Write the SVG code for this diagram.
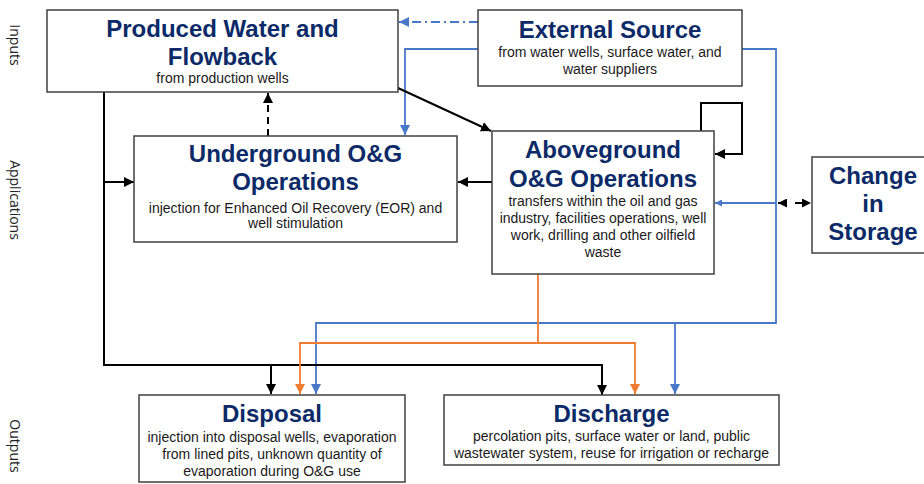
<svg xmlns="http://www.w3.org/2000/svg" width="924" height="484" viewBox="0 0 924 484">
<style>
.box{fill:#fff;stroke:#404040;stroke-width:1.5}
.t{font-family:"Liberation Sans",Arial,sans-serif;font-weight:bold;font-size:24px;fill:#0b2a67;text-anchor:middle}
.s{font-family:"Liberation Sans",Arial,sans-serif;font-size:14px;fill:#1a1a1a;text-anchor:middle}
.side{font-family:"Open Sans","DejaVu Sans",sans-serif;font-size:14px;fill:#222;text-anchor:middle}
.k{fill:none;stroke:#000;stroke-width:2}
.b{fill:none;stroke:#4a78c8;stroke-width:1.8}
.o{fill:none;stroke:#ee7d31;stroke-width:1.8}
</style>
<defs>
<marker id="ak" viewBox="0 0 10 10" refX="10" refY="5" markerWidth="10" markerHeight="10" markerUnits="userSpaceOnUse" orient="auto"><path d="M0,0 L10,5 L0,10 z" fill="#000"/></marker>
<marker id="ab" viewBox="0 0 10 10" refX="10" refY="5" markerWidth="10" markerHeight="10" markerUnits="userSpaceOnUse" orient="auto"><path d="M0,0 L10,5 L0,10 z" fill="#4a78c8"/></marker>
<marker id="abs" viewBox="0 0 10 10" refX="10" refY="5" markerWidth="7" markerHeight="7" markerUnits="userSpaceOnUse" orient="auto"><path d="M0,0 L10,5 L0,10 z" fill="#4a78c8"/></marker>
<marker id="ao" viewBox="0 0 10 10" refX="10" refY="5" markerWidth="10" markerHeight="10" markerUnits="userSpaceOnUse" orient="auto"><path d="M0,0 L10,5 L0,10 z" fill="#ee7d31"/></marker>
<marker id="aks" viewBox="0 0 10 10" refX="0" refY="5" markerWidth="9" markerHeight="9" markerUnits="userSpaceOnUse" orient="auto"><path d="M10,0 L0,5 L10,10 z" fill="#000"/></marker>
<marker id="akm" viewBox="0 0 10 10" refX="10" refY="5" markerWidth="9" markerHeight="9" markerUnits="userSpaceOnUse" orient="auto"><path d="M0,0 L10,5 L0,10 z" fill="#000"/></marker>
</defs>

<g id="side-labels">
<text class="side" transform="translate(15,45) rotate(90)" dominant-baseline="central">Inputs</text>
<text class="side" transform="translate(15,200) rotate(90)" dominant-baseline="central">Applications</text>
<text class="side" transform="translate(15,446) rotate(90)" dominant-baseline="central">Outputs</text>
</g>

<g id="connectors">
<line class="b" x1="478" y1="22" x2="399" y2="22" stroke-dasharray="9,4,2,4" marker-end="url(#ab)"/>
<path class="b" d="M478,49 H405 V135" marker-end="url(#ab)"/>
<path class="b" d="M742,49 H776 V323 H316 V394" marker-end="url(#ab)"/>
<path class="b" d="M675,323 V394" marker-end="url(#ab)"/>
<path class="b" d="M776,203 H715" marker-end="url(#abs)"/>
<path class="k" d="M398,88 L491,131" marker-end="url(#ak)"/>
<path class="k" d="M268,136 V93" stroke-dasharray="7,5" marker-end="url(#ak)"/>
<path class="k" d="M492,182 H458" marker-end="url(#ak)"/>
<path class="k" d="M701,131 V103 H742 V154 H715" marker-end="url(#ak)"/>
<path class="k" d="M104,92 V365 H602 V395" marker-end="url(#ak)"/>
<path class="k" d="M271,365 V394" marker-end="url(#ak)"/>
<path class="k" d="M104,182 H134" marker-end="url(#ak)"/>
<path class="o" d="M538,274 V343 H300 V394" marker-end="url(#ao)"/>
<path class="o" d="M538,343 H635 V394" marker-end="url(#ao)"/>
<line class="k" x1="778" y1="203" x2="811" y2="203" stroke-dasharray="9,8" marker-start="url(#aks)" marker-end="url(#akm)"/>
</g>

<g id="produced-water">
<rect class="box" x="47" y="10" width="351" height="82"/>
<text class="t" x="222.5" y="37">Produced Water and</text>
<text class="t" x="222.5" y="65">Flowback</text>
<text class="s" x="222.5" y="83">from production wells</text>
</g>

<g id="external-source">
<rect class="box" x="478" y="10" width="264" height="76"/>
<text class="t" x="610" y="38">External Source</text>
<text class="s" x="610" y="57">from water wells, surface water, and</text>
<text class="s" x="610" y="74">water suppliers</text>
</g>

<g id="underground">
<rect class="box" x="134" y="136" width="323" height="106"/>
<text class="t" x="295.5" y="162">Underground O&amp;G</text>
<text class="t" x="295.5" y="190">Operations</text>
<text class="s" x="295.5" y="213">injection for Enhanced Oil Recovery (EOR) and</text>
<text class="s" x="295.5" y="228">well stimulation</text>
</g>

<g id="aboveground">
<rect class="box" x="492" y="131" width="222" height="143"/>
<text class="t" x="603" y="158">Aboveground</text>
<text class="t" x="603" y="187">O&amp;G Operations</text>
<text class="s" x="603" y="206">transfers within the oil and gas</text>
<text class="s" x="603" y="223">industry, facilities operations, well</text>
<text class="s" x="603" y="240">work, drilling and other oilfield</text>
<text class="s" x="603" y="257">waste</text>
</g>

<g id="change-in-storage">
<rect class="box" x="812" y="157" width="120" height="96"/>
<text class="t" x="873" y="184">Change</text>
<text class="t" x="873" y="212">in</text>
<text class="t" x="873" y="240">Storage</text>
</g>

<g id="disposal">
<rect class="box" x="139" y="395" width="266" height="87"/>
<text class="t" x="272" y="422">Disposal</text>
<text class="s" x="272" y="442">injection into disposal wells, evaporation</text>
<text class="s" x="272" y="459">from lined pits, unknown quantity of</text>
<text class="s" x="272" y="476">evaporation during O&amp;G use</text>
</g>

<g id="discharge">
<rect class="box" x="444" y="395" width="335" height="70"/>
<text class="t" x="611.5" y="422">Discharge</text>
<text class="s" x="611.5" y="441">percolation pits, surface water or land, public</text>
<text class="s" x="611.5" y="458">wastewater system, reuse for irrigation or recharge</text>
</g>
</svg>
